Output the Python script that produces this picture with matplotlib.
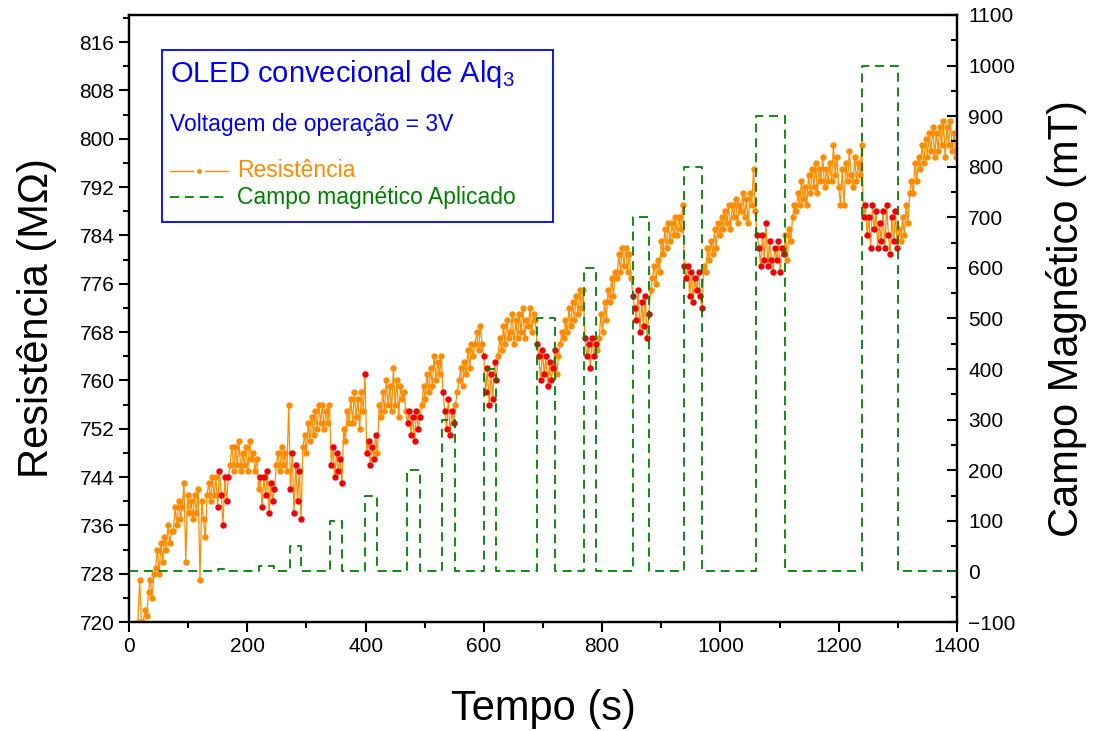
import numpy as np
import matplotlib
matplotlib.use("Agg")
import matplotlib.pyplot as plt
from matplotlib.patches import Rectangle
from matplotlib.lines import Line2D

plt.rcParams['font.family'] = ['Liberation Sans', 'DejaVu Sans']
plt.rcParams['mathtext.fontset'] = 'custom'
plt.rcParams['mathtext.rm'] = 'Liberation Sans'

# ---- data ----
# resistance sampled every 3 s starting at t = 15 s (MOhm)
time_start = 15
time_step = 3
resistance = [
    720, 727, 720, 720, 722, 721, 725, 727, 724, 728,
    729, 732, 728, 733, 730, 734, 732, 736, 733, 735,
    735, 739, 736, 740, 737, 739, 743, 730, 741, 738,
    740, 737, 741, 738, 742, 727, 740, 737, 734, 741,
    743, 740, 744, 741, 744, 739, 745, 741, 736, 744,
    740, 744, 746, 749, 745, 749, 746, 750, 745, 748,
    746, 749, 745, 750, 747, 748, 745, 747, 742, 744,
    739, 744, 741, 745, 738, 743, 740, 742, 746, 748,
    745, 749, 746, 748, 745, 756, 742, 748, 738, 746,
    740, 745, 737, 749, 751, 748, 753, 750, 754, 751,
    755, 752, 756, 753, 756, 752, 755, 753, 756, 746,
    749, 744, 748, 745, 747, 743, 752, 750, 755, 753,
    757, 753, 758, 754, 757, 752, 758, 755, 761, 748,
    750, 746, 749, 747, 751, 748, 756, 754, 758, 755,
    760, 756, 759, 755, 762, 756, 760, 754, 759, 757,
    758, 755, 753, 755, 751, 754, 750, 755, 752, 754,
    756, 759, 757, 761, 758, 762, 759, 764, 760, 763,
    761, 764, 758, 755, 752, 757, 751, 755, 753, 756,
    758, 760, 762, 759, 763, 761, 765, 762, 766, 764,
    766, 768, 765, 769, 766, 764, 758, 762, 756, 761,
    757, 763, 760, 764, 767, 765, 769, 766, 770, 767,
    768, 771, 766, 770, 767, 771, 768, 772, 767, 770,
    769, 772, 768, 771, 770, 766, 764, 760, 765, 761,
    764, 759, 763, 760, 762, 765, 761, 764, 766, 768,
    767, 770, 768, 772, 769, 773, 770, 774, 771, 775,
    772, 775, 767, 764, 766, 762, 767, 764, 766, 765,
    767, 771, 768, 773, 770, 775, 773, 777, 774, 778,
    777, 781, 778, 782, 779, 782, 778, 781, 777, 774,
    772, 770, 775, 768, 773, 769, 774, 767, 771, 775,
    777, 779, 776, 780, 778, 783, 781, 785, 782, 786,
    783, 786, 784, 787, 784, 787, 785, 789, 779, 777,
    779, 774, 778, 773, 777, 775, 778, 774, 772, 779,
    778, 782, 780, 783, 781, 785, 782, 786, 784, 787,
    785, 788, 786, 789, 785, 789, 787, 790, 786, 789,
    788, 791, 787, 790, 786, 791, 789, 795, 788, 784,
    782, 779, 784, 780, 786, 779, 783, 780, 778, 782,
    780, 783, 778, 782, 781, 784, 780, 785, 783, 787,
    789, 788, 791, 789, 793, 790, 792, 789, 794, 791,
    795, 792, 796, 791, 795, 793, 797, 792, 795, 793,
    796, 793, 799, 794, 797, 792, 789, 795, 789, 796,
    793, 798, 794, 792, 797, 793, 796, 794, 799, 787,
    789, 784, 787, 782, 789, 785, 788, 782, 786, 783,
    788, 782, 789, 784, 781, 787, 783, 788, 782, 785,
    783, 787, 784, 789, 786, 791, 793, 791, 796, 793,
    797, 795, 799, 796, 800, 797, 801, 798, 802, 797,
    801, 798, 802, 799, 803, 797, 802, 799, 803, 798, 801, 797,
]

# applied magnetic field pulses
pulse_start = [150, 220, 272, 340, 399, 470, 529, 600, 690, 769, 852, 938, 1060, 1240]
pulse_end = [168, 246, 291, 360, 419, 492, 551, 621, 720, 790, 879, 969, 1109, 1300]
pulse_field = [5, 10, 50, 100, 150, 200, 300, 400, 500, 600, 700, 800, 900, 1000]

x_ticks = [0, 200, 400, 600, 800, 1000, 1200, 1400]
left_ticks = [720, 728, 736, 744, 752, 760, 768, 776, 784, 792, 800, 808, 816]
right_ticks = [-100, 0, 100, 200, 300, 400, 500, 600, 700, 800, 900, 1000, 1100]

# ---- build arrays ----
R = np.array(resistance, dtype=float)
t = time_start + time_step * np.arange(len(R))
on = np.zeros(len(t), dtype=bool)
for s, e in zip(pulse_start, pulse_end):
    on |= (t >= s) & (t <= e)

fx, fy = [0], [0]
for s, e, a in zip(pulse_start, pulse_end, pulse_field):
    fx += [s, s, e, e]
    fy += [0, a, a, 0]
fx.append(1400)
fy.append(0)

ORANGE = '#FF8C00'
RED = '#F00000'
GREEN = '#008000'
BLUE = '#0000FF'

fig = plt.figure(figsize=(10.93, 7.31), dpi=100)
ax = fig.add_axes([129 / 1093, 109 / 731, 828 / 1093, 607 / 731])
ax2 = ax.twinx()

ax.plot(t, R, '-', color=ORANGE, lw=0.9, zorder=2)
ax.plot(t[~on], R[~on], 'o', color=ORANGE, ms=4.6, mec='none', zorder=3)
ax.plot(t[on], R[on], 'o', color=RED, ms=4.6, mec='none', zorder=4)

ax2.plot(fx, fy, color=GREEN, lw=1.3, dashes=(5, 3.2))

ax.set_xlim(0, 1400)
ax.set_ylim(720, 820.5)
ax2.set_ylim(-100, 1100)

ax.set_xticks(x_ticks)
ax.set_xticks(np.array(x_ticks[:-1]) + 100, minor=True)
ax.set_yticks(left_ticks)
ax.set_yticks(np.array(left_ticks) + 4, minor=True)
ax2.set_yticks(right_ticks)
ax2.set_yticks(np.array(right_ticks[:-1]) + 50, minor=True)

for a in (ax, ax2):
    for sp in a.spines.values():
        sp.set_linewidth(1.6)

ax.tick_params(axis='both', which='major', direction='out', length=7, width=1.5, labelsize=15)
ax.tick_params(axis='both', which='minor', direction='out', length=4, width=1.5)
ax.tick_params(axis='x', top=False, which='both')
ax2.tick_params(axis='y', which='major', direction='in', length=7, width=1.5, labelsize=15, pad=8)
ax2.tick_params(axis='y', which='minor', direction='in', length=4, width=1.5)

ax.set_xlabel('Tempo (s)', fontsize=30, labelpad=24)
ax.set_ylabel('Resistência (MΩ)', fontsize=30, labelpad=16)
ax2.set_ylabel('Campo Magnético (mT)', fontsize=30, labelpad=22)

# annotation box with legend
ax.add_patch(Rectangle((0.0399, 0.659), 0.4723, 0.283, transform=ax.transAxes,
                       fill=True, facecolor='white', edgecolor=BLUE, lw=1.3, zorder=5))
ax.text(0.0495, 0.903, 'OLED convecional de Alq$_{\\mathregular{3}}$', transform=ax.transAxes,
        color=BLUE, fontsize=21, va='center', ha='left', zorder=6)
ax.text(0.0495, 0.819, 'Voltagem de operação = 3V', transform=ax.transAxes,
        color=BLUE, fontsize=16.5, va='center', ha='left', zorder=6)
ax.add_line(Line2D([0.0495, 0.0770], [0.743, 0.743], transform=ax.transAxes,
                   color=ORANGE, lw=1.0, zorder=6))
ax.add_line(Line2D([0.0920, 0.1196], [0.743, 0.743], transform=ax.transAxes,
                   color=ORANGE, lw=1.0, zorder=6))
ax.add_line(Line2D([0.0845], [0.743], transform=ax.transAxes, marker='o',
                   color=ORANGE, ms=3.5, mec='none', zorder=7))
ax.add_line(Line2D([0.0495, 0.1196], [0.700, 0.700], transform=ax.transAxes,
                   color=GREEN, lw=1.3, dashes=(5, 3.2), zorder=6))
ax.text(0.130, 0.743, 'Resistência', transform=ax.transAxes,
        color=ORANGE, fontsize=16.5, va='center', ha='left', zorder=6)
ax.text(0.130, 0.700, 'Campo magnético Aplicado', transform=ax.transAxes,
        color=GREEN, fontsize=16.5, va='center', ha='left', zorder=6)

fig.savefig('out.png', dpi=100)
